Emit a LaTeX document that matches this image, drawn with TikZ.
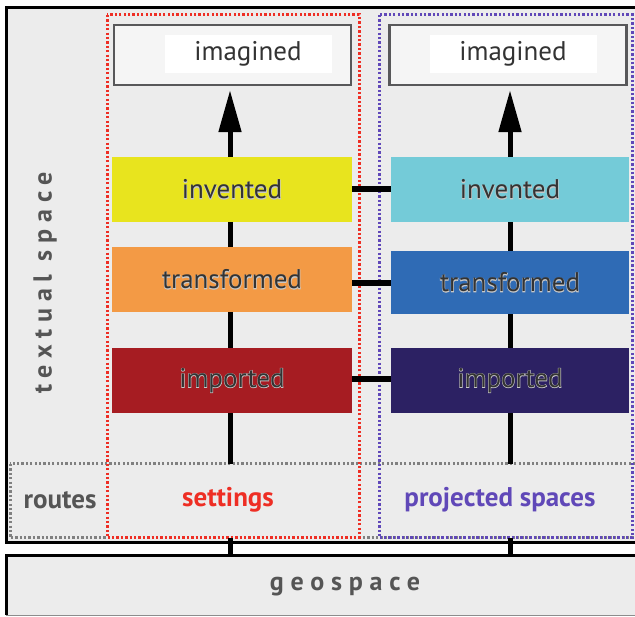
\documentclass[tikz,border=0pt]{standalone}
\usepackage{fontspec}
\setmainfont{PT Sans}
\newfontfamily\spacedfont[LetterSpace=26]{PT Sans}
\newfontfamily\haloface[FakeBold=3.5]{PT Sans}
\usetikzlibrary{arrows.meta}
\definecolor{panel}{HTML}{ECECEC}
\definecolor{frameedge}{HTML}{58585A}
\definecolor{labelgray}{HTML}{555555}
\definecolor{boxtext}{HTML}{333333}
\definecolor{setred}{HTML}{EE2E24}
\definecolor{projviolet}{HTML}{6048B8}
\definecolor{invL}{HTML}{E8E41E}
\definecolor{trL}{HTML}{F39A45}
\definecolor{impL}{HTML}{A61C22}
\definecolor{invR}{HTML}{74CBD8}
\definecolor{trR}{HTML}{2F6BB5}
\definecolor{impR}{HTML}{2C2163}
% layer label: a pale halo copy under the dark lettering
\newcommand{\haloed}[1]{\makebox[0pt][l]{\color{white!78!black}\haloface #1}#1}
\tikzset{
  layerbox/.style={minimum width=240pt, minimum height=65pt, inner sep=0pt,
    text=boxtext, font=\fontsize{27}{30}\selectfont},
  topbox/.style={draw=frameedge, line width=2.5pt, fill=white!96!black,
    minimum width=237pt, minimum height=60pt, inner sep=0pt},
  toptext/.style={fill=white, text=boxtext, minimum width=167pt, minimum height=38pt,
    inner sep=0pt, font=\fontsize{27}{30}\selectfont},
  spine/.style={line width=5pt, black},
  link/.style={line width=6pt, black},
  dotline/.style={line width=3pt, dash pattern=on 2.3pt off 2.1pt},
  bandlabel/.style={font=\bfseries\fontsize{27}{30}\selectfont, inner sep=0pt}
}
\begin{document}
\begin{tikzpicture}[x=1pt,y=-1pt]
\useasboundingbox (0,0) rectangle (635,617);
\fill[white] (0,0) rectangle (635,617);

% outer frame of the textual space
\draw[line width=3pt, fill=panel] (6,8) rectangle (660,543);

% geospace strip
\fill[panel] (6,555) rectangle (660,615);
\draw[line width=3pt] (6,615) -- (6,555) -- (660,555);
\draw[line width=0.8pt, black!45] (6,615.5) -- (660,615.5);
\node[font=\spacedfont\bfseries\fontsize{26}{28}\selectfont, text=labelgray] (geo) at (345,587) {geospace};

% routes band
\draw[dotline, black!50] (10,464) rectangle (660,538);
\node[bandlabel, text=labelgray] (routes) at (60,500) {routes};

% the two columns
\draw[dotline, setred] (107,15) rectangle (359,538);
\draw[dotline, projviolet] (379,15) rectangle (632,538);
\node[bandlabel, text=setred] (settings) at (228,500) {settings};
\node[bandlabel, text=projviolet] (projected) at (500,500) {projected spaces};

% vertical label
\node[font=\spacedfont\bfseries\fontsize{26}{28}\selectfont, text=labelgray, rotate=90] (textual) at (45,283) {textual space};

% left column boxes
\node[topbox] (imL) at (232.5,55) {};
\node[toptext] (imLt) at (248,54) {imagined};
\node[layerbox, fill=invL] (invLb) at (232,189.5) {\haloed{invented}};
\node[layerbox, fill=trL] (trLb) at (232,279.5) {\haloed{transformed}};
\node[layerbox, fill=impL] (impLb) at (232,380.5) {\haloed{imported}};

% right column boxes
\node[topbox] (imR) at (508,55) {};
\node[toptext] (imRt) at (513,54) {imagined};
\node[layerbox, fill=invR, minimum width=238pt] (invRb) at (510,189.5) {\haloed{invented}};
\node[layerbox, fill=trR, minimum width=238pt, minimum height=63pt] (trRb) at (510,282.5) {\haloed{transformed}};
\node[layerbox, fill=impR, minimum width=238pt] (impRb) at (510,380.5) {\haloed{imported}};

% anchor points on the routes band and the geospace strip
\coordinate (bandL) at (230,464);
\coordinate (bandR) at (510,464);
\coordinate (baseL) at (230,538);
\coordinate (baseR) at (510,538);
\coordinate (geoL) at (230,556);
\coordinate (geoR) at (510,556);

% spines between the stacked boxes
\draw[spine] (bandL) -- (impLb.south -| bandL);
\draw[spine] (impLb.north -| bandL) -- (trLb.south -| bandL);
\draw[spine] (trLb.north -| bandL) -- (invLb.south -| bandL);
\draw[spine] (bandR) -- (impRb.south -| bandR);
\draw[spine] (impRb.north -| bandR) -- (trRb.south -| bandR);
\draw[spine] (trRb.north -| bandR) -- (invRb.south -| bandR);
\draw[spine] (baseL) -- (geoL);
\draw[spine] (baseR) -- (geoR);

% arrows up to the imagined boxes
\draw[spine, -{Triangle[width=22pt,length=42pt]}, shorten >=4pt] (invLb.north -| bandL) -- (imL.south -| bandL);
\draw[spine, -{Triangle[width=22pt,length=42pt]}, shorten >=4pt] (invRb.north -| bandR) -- (imR.south -| bandR);

% links between matching layers
\draw[link] (invLb.east) -- (invRb.west |- invLb.east);
\draw[link] (trLb.east |- 0,283) -- (trRb.west |- 0,283);
\draw[link] (impLb.east |- 0,379) -- (impRb.west |- 0,379);
\end{tikzpicture}
\end{document}
